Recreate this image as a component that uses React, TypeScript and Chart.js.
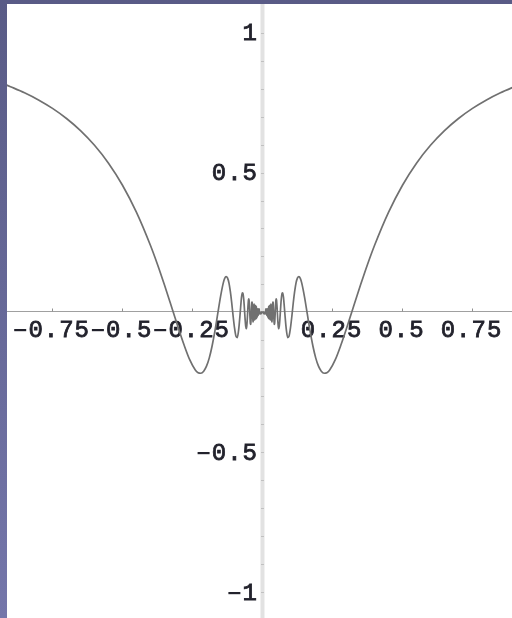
import React, { useEffect, useRef } from 'react';
import { Chart, registerables } from 'chart.js';

Chart.register(...registerables);

// Right half of the plotted curve (the picture is mirror-symmetric about x = 0)
const curveX = [
  0.001, 0.002, 0.003, 0.004, 0.006, 0.008, 0.010, 0.011, 0.012, 0.013,
  0.014, 0.015, 0.016, 0.017, 0.018, 0.019, 0.020, 0.0205, 0.021, 0.0215,
  0.022, 0.0225, 0.023, 0.0235, 0.024, 0.0245, 0.025, 0.0255, 0.026, 0.0265,
  0.027, 0.0275, 0.028, 0.0285, 0.029, 0.0295, 0.030, 0.0305, 0.031, 0.0315,
  0.032, 0.0325, 0.033, 0.0335, 0.034, 0.0345, 0.035, 0.0355, 0.036, 0.0365,
  0.037, 0.0375, 0.038, 0.0385, 0.039, 0.0395, 0.040, 0.0405, 0.041, 0.0415,
  0.042, 0.0425, 0.043, 0.0435, 0.044, 0.0445, 0.045, 0.0455, 0.046, 0.0465,
  0.047, 0.048, 0.049, 0.050, 0.052, 0.054, 0.055, 0.056, 0.058, 0.060,
  0.062, 0.065, 0.067, 0.070, 0.072, 0.075, 0.078, 0.080, 0.085, 0.090,
  0.095, 0.100, 0.105, 0.110, 0.115, 0.120, 0.125, 0.130, 0.135, 0.140,
  0.150, 0.160, 0.170, 0.180, 0.190, 0.200, 0.210, 0.220, 0.230, 0.240,
  0.260, 0.280, 0.300, 0.3183, 0.330, 0.350, 0.375, 0.400, 0.450, 0.500,
  0.550, 0.600, 0.650, 0.700, 0.750, 0.800, 0.850, 0.900, 0.920,
];
const curveY = [
  0.0008, -0.0009, 0.0010, -0.0039, -0.0010, -0.0049, -0.0051, 0.0022, 0.0120, 0.0130,
  0.0103, -0.0096, -0.0052, 0.0130, -0.0151, 0.0133, -0.0052, -0.0204, -0.0100, 0.0123,
  0.0219, 0.0100, -0.0111, -0.0233, -0.0176, 0.0006, 0.0186, 0.0255, 0.0180, 0.0010,
  -0.0166, -0.0267, -0.0256, -0.0144, 0.0022, 0.0181, 0.0282, 0.0299, 0.0231, 0.0102,
  -0.0053, -0.0195, -0.0296, -0.0335, -0.0308, -0.0225, -0.0102, 0.0037, 0.0172, 0.0281,
  0.0351, 0.0375, 0.0352, 0.0287, 0.0190, 0.0072, -0.0053, -0.0173, -0.0277, -0.0358,
  -0.0407, -0.0425, -0.0410, -0.0365, -0.0295, -0.0206, -0.0103, 0.0006, 0.0115, 0.0217,
  0.0308, 0.0440, 0.0490, 0.0456, 0.0193, -0.0176, -0.0341, -0.0469, -0.0580, -0.0491,
  -0.0253, 0.0207, 0.0473, 0.0693, 0.0698, 0.0538, 0.0197, -0.0053, -0.0604, -0.0895,
  -0.0840, -0.0544, -0.0122, 0.0356, 0.0761, 0.1068, 0.1237, 0.1283, 0.1218, 0.1059,
  0.0561, -0.0053, -0.0667, -0.1195, -0.1621, -0.1918, -0.2097, -0.2170, -0.2149, -0.2054,
  -0.1686, -0.1163, -0.0572, 0.0000, 0.0366, 0.0980, 0.1716, 0.2394, 0.3578, 0.4546,
  0.5333, 0.5972, 0.6497, 0.6929, 0.7289, 0.7592, 0.7848, 0.8064, 0.8147,
];

const xTickValues = [-0.75, -0.5, -0.25, 0.25, 0.5, 0.75];
const xTickLabels = ['-0.75', '-0.5', '-0.25', '0.25', '0.5', '0.75'];
const yTickValues = [-1, -0.5, 0.5, 1];
const yTickLabels = ['-1', '-0.5', '0.5', '1'];
const yMinorTicks = [-1, -0.9, -0.8, -0.7, -0.6, -0.5, -0.4, -0.3, -0.2, -0.1, 0.1, 0.2, 0.3, 0.4, 0.5, 0.6, 0.7, 0.8, 0.9, 1];

const X_MIN = -0.9125;
const X_MAX = 0.8911;
const Y_MIN = -1.0911;
const Y_MAX = 1.1018;

const CHAR_ADV = 15.4;
const LABEL_FONT = '24px "Liberation Mono", "DejaVu Sans Mono", monospace';

function drawSpacedText(ctx: CanvasRenderingContext2D, text: string, anchorX: number, baseline: number, align: 'center' | 'right') {
  const total = text.length * CHAR_ADV;
  const start = align === 'center' ? anchorX - total / 2 : anchorX - total;
  for (let i = 0; i < text.length; i++) {
    const cx = start + (i + 0.5) * CHAR_ADV;
    if (text[i] === '-') {
      // Mathematica draws a long minus dash
      ctx.fillRect(cx - 6, baseline - 8, 12, 2.2);
    } else {
      ctx.fillText(text[i], cx, baseline);
      ctx.strokeText(text[i], cx, baseline);
    }
  }
}

const axesPlugin = {
  id: 'mathAxes',
  beforeDatasetsDraw(chart: any) {
    const { ctx, chartArea, scales } = chart;
    const xs = scales.x;
    const ys = scales.y;
    const x0 = xs.getPixelForValue(0);
    const y0 = ys.getPixelForValue(0);
    ctx.save();
    // vertical axis
    ctx.strokeStyle = '#e2e2e2';
    ctx.lineWidth = 4;
    ctx.beginPath();
    ctx.moveTo(x0, chartArea.top);
    ctx.lineTo(x0, chartArea.bottom);
    ctx.stroke();
    // vertical axis ticks
    ctx.strokeStyle = '#c0c0c0';
    ctx.lineWidth = 1;
    yMinorTicks.forEach((v) => {
      const py = Math.round(ys.getPixelForValue(v)) + 0.5;
      ctx.beginPath();
      ctx.moveTo(x0 - 1.5, py);
      ctx.lineTo(x0 + 1.5, py);
      ctx.stroke();
    });
    // horizontal axis
    const ay = Math.round(y0) - 0.5;
    ctx.strokeStyle = '#a0a0a0';
    ctx.lineWidth = 1;
    ctx.beginPath();
    ctx.moveTo(chartArea.left, ay);
    ctx.lineTo(chartArea.right, ay);
    ctx.stroke();
    ctx.strokeStyle = '#909090';
    xTickValues.forEach((v) => {
      const px = Math.round(xs.getPixelForValue(v)) + 0.5;
      ctx.beginPath();
      ctx.moveTo(px, ay - 3);
      ctx.lineTo(px, ay);
      ctx.stroke();
    });
    // labels
    ctx.fillStyle = '#22222c';
    ctx.strokeStyle = '#22222c';
    ctx.lineWidth = 0.8;
    ctx.font = LABEL_FONT;
    ctx.textAlign = 'center';
    ctx.textBaseline = 'alphabetic';
    xTickValues.forEach((v, i) => {
      drawSpacedText(ctx, xTickLabels[i], xs.getPixelForValue(v) - 1.5, y0 + 24.5, 'center');
    });
    yTickValues.forEach((v, i) => {
      drawSpacedText(ctx, yTickLabels[i], x0 - 5, ys.getPixelForValue(v) + 7.5, 'right');
    });
    ctx.restore();
  },
};

export default function App() {
  const ref = useRef<HTMLCanvasElement>(null);
  useEffect(() => {
    document.body.style.margin = '0';
    const points: { x: number; y: number }[] = [];
    for (let i = curveX.length - 1; i >= 0; i--) points.push({ x: -curveX[i], y: curveY[i] });
    points.push({ x: 0, y: 0 });
    for (let i = 0; i < curveX.length; i++) points.push({ x: curveX[i], y: curveY[i] });

    const chart = new Chart(ref.current as HTMLCanvasElement, {
      type: 'line',
      data: {
        datasets: [
          {
            data: points,
            borderColor: '#707070',
            borderWidth: 1.7,
            pointRadius: 0,
            fill: false,
            cubicInterpolationMode: 'monotone',
          },
        ],
      },
      options: {
        responsive: false,
        animation: false,
        devicePixelRatio: 1,
        layout: { padding: 0 },
        plugins: { legend: { display: false }, tooltip: { enabled: false } },
        scales: {
          x: { type: 'linear', display: false, min: X_MIN, max: X_MAX },
          y: { type: 'linear', display: false, min: Y_MIN, max: Y_MAX },
        },
      },
      plugins: [axesPlugin],
    } as any);
    return () => chart.destroy();
  }, []);

  return (
    <div
      style={{
        width: 512,
        height: 618,
        position: 'relative',
        overflow: 'hidden',
        background: 'linear-gradient(to bottom, #595b86, #7476aa)',
      }}
    >
      <div style={{ position: 'absolute', left: 7, top: 4, width: 505, height: 614, background: '#ffffff' }}>
        <canvas ref={ref} width={505} height={614} style={{ display: 'block' }} />
      </div>
    </div>
  );
}
